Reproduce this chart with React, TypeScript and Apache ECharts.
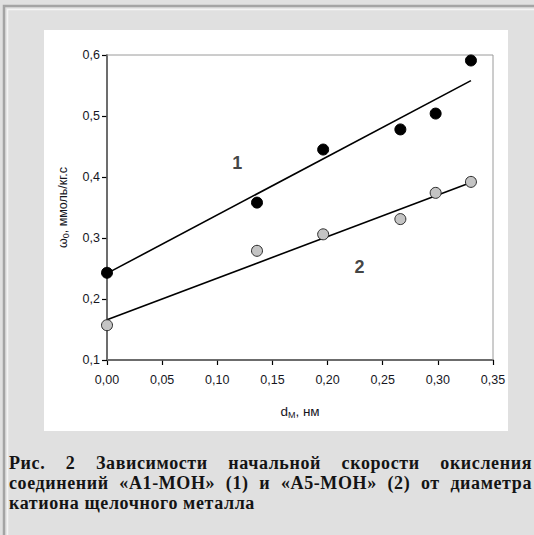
import React, { useEffect, useRef } from "react";
import * as echarts from "echarts";

const diameters = [0, 0.136, 0.196, 0.266, 0.298, 0.33];
const rateA1 = [0.243, 0.358, 0.445, 0.478, 0.504, 0.591];
const rateA5 = [0.157, 0.279, 0.306, 0.331, 0.374, 0.392];
const trendX = [0, 0.33];
const trendA1 = [0.242, 0.558];
const trendA5 = [0.166, 0.391];
const curveLabels = ["1", "2"];
const curveLabelX = [0.118, 0.229];
const curveLabelY = [0.423, 0.253];
const captionLines = [
  "Рис. 2 Зависимости начальной скорости окисления",
  "соединений «А1-МОН» (1) и «А5-МОН» (2) от диаметра",
  "катиона щелочного металла",
];

const TXT = "#16161e";
const SANS = "Liberation Sans, Arial, sans-serif";

export default function App() {
  const ref = useRef<HTMLDivElement>(null);
  useEffect(() => {
    if (!ref.current) return;
    const chart = echarts.init(ref.current, null, { renderer: "svg" });
    const pair = (xs: number[], ys: number[]) => xs.map((x, i) => [x, ys[i]]);
    chart.setOption({
      animation: false,
      backgroundColor: "#e0e0e0",
      graphic: [
        { type: "rect", shape: { x: 4, y: 6, width: 540, height: 540 }, style: { fill: "none", stroke: "#a4a4a4", lineWidth: 2.5 }, silent: true },
        { type: "rect", shape: { x: 7.5, y: 9.5, width: 540, height: 540 }, style: { fill: "none", stroke: "#f4f4f4", lineWidth: 1.5 }, silent: true },
        { type: "rect", shape: { x: 44, y: 30, width: 464, height: 401 }, style: { fill: "#ffffff" }, silent: true, z: -10 },
      ],
      grid: {
        left: 107,
        top: 55,
        right: 41,
        bottom: 175,
        show: true,
        borderColor: "#9a9a9a",
        borderWidth: 1,
        backgroundColor: "transparent",
        z: 1,
      },
      xAxis: {
        type: "value",
        min: 0,
        max: 0.35,
        interval: 0.05,
        splitLine: { show: false },
        axisLine: { show: true, onZero: false, lineStyle: { color: "#000", width: 1.5 } },
        axisTick: { show: true, inside: false, length: 5, lineStyle: { color: "#000", width: 1.2 } },
        axisLabel: {
          margin: 13,
          color: TXT,
          fontFamily: SANS,
          fontSize: 12.5,
          formatter: (v: number) => v.toFixed(2).replace(".", ","),
        },
        name: "d{sub|М}, нм",
        nameLocation: "middle",
        nameGap: 43,
        nameTextStyle: {
          color: TXT,
          fontFamily: SANS,
          fontSize: 13.5,
          rich: {
            sub: { fontSize: 9, padding: [7, 0, 0, 0], color: TXT, fontFamily: SANS },
          },
        },
      },
      yAxis: {
        type: "value",
        min: 0.1,
        max: 0.6,
        interval: 0.1,
        splitLine: { show: false },
        axisLine: { show: true, onZero: false, lineStyle: { color: "#000", width: 1.5 } },
        axisTick: { show: true, inside: false, length: 5, lineStyle: { color: "#000", width: 1.2 } },
        axisLabel: {
          margin: 7,
          color: TXT,
          fontFamily: SANS,
          fontSize: 12.5,
          formatter: (v: number) => v.toFixed(1).replace(".", ","),
        },
        name: "ω{sub|0}, ммоль/кг.с",
        nameLocation: "middle",
        nameGap: 37,
        nameTextStyle: {
          color: TXT,
          fontFamily: SANS,
          fontSize: 12.5,
          rich: {
            sub: { fontSize: 9, padding: [5, 0, 0, 0], color: TXT, fontFamily: SANS },
          },
        },
      },
      series: [
        {
          type: "line",
          data: pair(trendX, trendA1),
          symbol: "none",
          lineStyle: { color: "#000", width: 1.6 },
          z: 2,
        },
        {
          type: "line",
          data: pair(trendX, trendA5),
          symbol: "none",
          lineStyle: { color: "#000", width: 1.6 },
          z: 2,
        },
        {
          type: "scatter",
          data: pair(diameters, rateA1),
          symbol: "circle",
          symbolSize: 11,
          itemStyle: { color: "#000", borderColor: "#000", borderWidth: 1, opacity: 1 },
          z: 3,
        },
        {
          type: "scatter",
          data: pair(diameters, rateA5),
          symbol: "circle",
          symbolSize: 11,
          itemStyle: { color: "#c4c4c4", borderColor: "#2a2a2a", borderWidth: 1, opacity: 1 },
          z: 3,
        },
        {
          type: "scatter",
          data: curveLabels.map((t, i) => ({ value: [curveLabelX[i], curveLabelY[i]], name: t })),
          symbolSize: 1,
          itemStyle: { color: "transparent" },
          label: {
            show: true,
            position: "inside",
            formatter: (p: any) => p.name,
            color: "#111",
            fontFamily: SANS,
            fontWeight: "bold",
            fontSize: 18,
          },
          silent: true,
          z: 4,
        },
      ],
    });
    return () => chart.dispose();
  }, []);

  return (
    <div style={{ position: "fixed", left: 0, top: 0, width: 534, height: 535, overflow: "hidden", background: "#e0e0e0" }}>
      <div ref={ref} style={{ position: "absolute", left: 0, top: 0, width: 534, height: 535 }} />
      <div
        style={{
          position: "absolute",
          left: 9,
          top: 453,
          width: 523,
          fontFamily: '"Liberation Serif", "DejaVu Serif", "Times New Roman", serif',
          fontWeight: "bold",
          fontSize: 18,
          letterSpacing: "0.6px",
          lineHeight: "20px",
          color: "#141414",
        }}
      >
        {captionLines.map((line, i) => (
          <div
            key={i}
            style={{
              textAlign: "justify",
              textAlignLast: i < captionLines.length - 1 ? "justify" : "left",
              whiteSpace: "normal",
            }}
          >
            {line}
          </div>
        ))}
      </div>
    </div>
  );
}
